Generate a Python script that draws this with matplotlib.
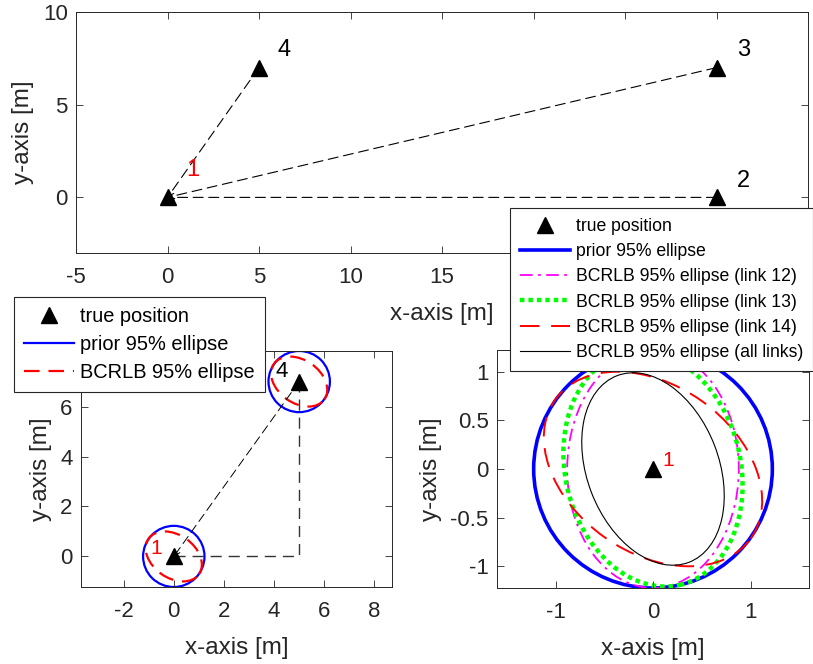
import matplotlib
matplotlib.use("Agg")
import matplotlib.pyplot as plt
from matplotlib.lines import Line2D
from matplotlib.patches import Ellipse
from matplotlib.ticker import FormatStrFormatter

plt.rcParams['font.family'] = ['Liberation Sans', 'DejaVu Sans']
plt.rcParams['axes.unicode_minus'] = False

# node positions [m]; node 1 is the agent, 2-4 are anchors linked to it
node_id = ["1", "2", "3", "4"]
node_x = [0, 30, 30, 5]
node_y = [0, 0, 7, 7]
link_from = [1, 2, 3]          # indices of nodes with a link into node 1

# local view (bottom left): nodes 1 and 4, plus the L-shaped path
local_nodes = [0, 3]
path_x = [0, 5, 5]
path_y = [0, 0, 7]

# 95% ellipses around node 1: semi-axes [m] and tilt [deg]
ell_label = ["prior 95% ellipse", "BCRLB 95% ellipse (link 12)", "BCRLB 95% ellipse (link 13)",
             "BCRLB 95% ellipse (link 14)", "BCRLB 95% ellipse (all links)"]
ell_a = [1.224, 0.88, 0.90, 0.86, 1.028]
ell_b = [1.224, 1.224, 1.224, 1.231, 0.676]
ell_tilt = [0, 0, 13, 54.5, -69]

# top axis ticks; the ones from 20 on sit under the legend in the original
top_xticks = [-5, 0, 5, 10, 15, 20, 25, 30, 35]
top_xlabels = ["-5", "0", "5", "10", "15", "", "", "", ""]

INK = "#262626"
W, H = 813, 664
STY = [dict(color="#0000ff", lw=2.6, ls="-"),
       dict(color="#ff00ff", lw=1.3, ls=(0, (7, 3, 1.5, 3))),
       dict(color="#00ff00", lw=3.2, ls=(0, (1, 0.9))),
       dict(color="#ff0000", lw=1.4, ls=(0, (10, 6))),
       dict(color="black", lw=0.8, ls="-")]


def _style(ax, xt, yt):
    ax.set_xticks(xt)
    ax.set_yticks(yt)
    ax.xaxis.set_major_formatter(FormatStrFormatter("%g"))
    ax.yaxis.set_major_formatter(FormatStrFormatter("%g"))
    ax.tick_params(direction="in", top=True, right=True, length=5, width=0.6,
                   colors=INK, labelsize=16)
    ax.tick_params(axis="x", pad=10)
    ax.tick_params(axis="y", pad=6)
    for s in ax.spines.values():
        s.set_color(INK)
        s.set_linewidth(0.7)
    ax.set_xlabel("x-axis [m]", fontsize=17.5, color=INK, labelpad=11)
    ax.set_ylabel("y-axis [m]", fontsize=17.5, color=INK, labelpad=6)


def _link(ax, i, lw=0.8):
    ax.annotate("", xy=(node_x[0], node_y[0]), xytext=(node_x[i], node_y[i]),
                arrowprops=dict(arrowstyle="->", lw=lw, color="black",
                                ls=(0, (9, 5)), shrinkA=0, shrinkB=0,
                                mutation_scale=10))


def _ellipse(ax, cx, cy, k, **over):
    st = dict(STY[k]); st.update(over)
    ax.add_patch(Ellipse((cx, cy), 2 * ell_a[k], 2 * ell_b[k], angle=ell_tilt[k],
                         fill=False, ec=st["color"], lw=st["lw"], ls=st["ls"]))


fig = plt.figure(figsize=(W / 100, H / 100), dpi=100)

# --- top: whole network
ax = fig.add_axes([76 / W, 1 - 253 / H, 732 / W, 241 / H])
for i in link_from:
    _link(ax, i)
ax.plot(node_x, node_y, "^", color="black", ms=11, zorder=5)
lab_dx = [1.0, 1.1, 1.1, 1.0]
lab_dy = [0.9, 0.3, 0.35, 0.35]
for i, t in enumerate(node_id):
    ax.text(node_x[i] + lab_dx[i], node_y[i] + lab_dy[i], t, fontsize=17,
            color="red" if i == 0 else "black", ha="left", va="bottom")
ax.set_xlim(-5, 35)
ax.set_ylim(-3, 10)
_style(ax, top_xticks, [0, 5, 10])
ax.set_xticklabels(top_xlabels)

# --- bottom left: local view with ellipses
ax = fig.add_axes([81 / W, 1 - 587 / H, 311 / W, 236 / H])
ax.plot(path_x, path_y, color="#333333", lw=1.0, ls=(0, (8, 5)))
_link(ax, 3, lw=0.7)
for i in local_nodes:
    _ellipse(ax, node_x[i], node_y[i], 0, lw=1.6)
    _ellipse(ax, node_x[i], node_y[i], 3, lw=1.6, ls=(0, (7, 4)))
ax.plot([node_x[i] for i in local_nodes], [node_y[i] for i in local_nodes], "^",
        color="black", ms=11, zorder=5)
ax.text(node_x[0] - 0.95, node_y[0] + 0.1, node_id[0], fontsize=15, color="red")
ax.text(node_x[3] - 0.95, node_y[3] + 0.2, node_id[3], fontsize=16, color="black")
ax.set_xlim(-3.7, 8.7)
ax.set_ylim(-1.224, 8.224)
_style(ax, [-2, 0, 2, 4, 6, 8], [0, 2, 4, 6])

# --- bottom right: zoom on node 1
ax = fig.add_axes([497 / W, 1 - 588 / H, 312 / W, 238 / H])
for k in range(len(ell_label)):
    _ellipse(ax, node_x[0], node_y[0], k)
ax.plot(node_x[0], node_y[0], "^", color="black", ms=11, zorder=5)
ax.text(node_x[0] + 0.1, node_y[0] + 0.03, node_id[0], fontsize=15, color="red")
ax.set_xlim(-1.6, 1.6)
ax.set_ylim(-1.224, 1.224)
_style(ax, [-1, 0, 1], [-1, -0.5, 0, 0.5, 1])

# --- legends
tri = Line2D([], [], ls="none", marker="^", color="black", ms=11)
h_left = [tri, Line2D([], [], **STY[0] | dict(lw=1.6)),
          Line2D([], [], **STY[3] | dict(lw=1.6, ls=(0, (7, 4))))]
leg = fig.legend(h_left, ["true position", ell_label[0], "BCRLB 95% ellipse"],
                 loc="upper left", bbox_to_anchor=(14 / W, 1 - 297 / H), borderaxespad=0,
                 fontsize=14.4, handlelength=2.5, handletextpad=0.3, borderpad=0.5,
                 labelspacing=0.45, fancybox=False, framealpha=1, edgecolor=INK)
leg.get_frame().set_linewidth(0.8)

h_right = [tri] + [Line2D([], [], **s) for s in STY]
leg = fig.legend(h_right, ["true position"] + ell_label,
                 loc="upper left", bbox_to_anchor=(510 / W, 1 - 208 / H), borderaxespad=0,
                 fontsize=12.7, handlelength=2.84, handletextpad=0.34, borderpad=0.55,
                 labelspacing=0.47, fancybox=False, framealpha=1, edgecolor=INK)
leg.get_frame().set_linewidth(0.8)

fig.savefig("out.png", dpi=100)
